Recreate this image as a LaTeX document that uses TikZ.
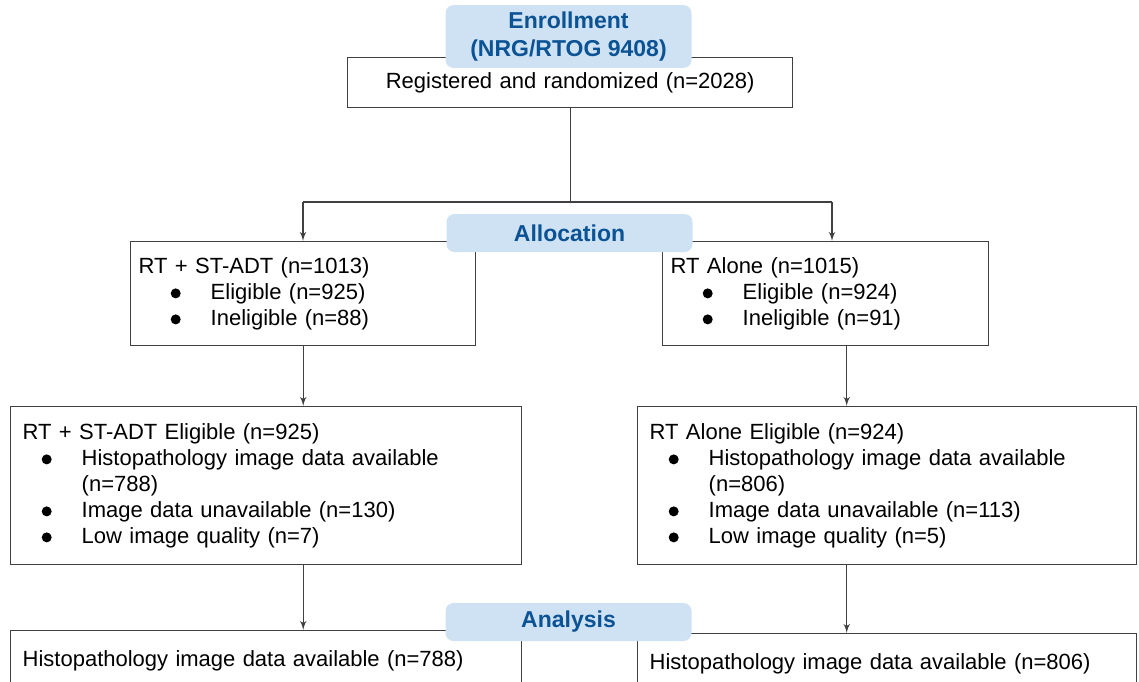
\documentclass[tikz,border=0pt]{standalone}
\usepackage{fontspec}
\setmainfont{Liberation Sans}
\usepackage{xcolor}
\usetikzlibrary{arrows, positioning}

\definecolor{tagfill}{HTML}{CFE2F3}
\definecolor{tagtext}{HTML}{0B5394}
\newcommand{\dotmark}{\tikz[baseline=0pt]\fill[black] (0pt,3pt) circle (2.5pt);}
\newcommand{\bitem}[2][9.5pt]{\hspace*{#1}\makebox[20pt][l]{\dotmark}#2}

\begin{document}
\begin{tikzpicture}[
    x=0.5pt, y=-0.5pt,
    box/.style={rectangle, draw=black!75, line width=0.7pt, fill=white, anchor=north west, align=left, inner xsep=6pt, inner ysep=0pt, font=\fontsize{11}{13}\selectfont},
    tag/.style={rectangle, rounded corners=4pt, fill=tagfill, text=tagtext, minimum width=123pt, align=center, font=\bfseries\fontsize{11.5}{14}\selectfont},
    link/.style={draw=black!75, line width=0.6pt},
    line/.style={link, -latex'}
]
\path[use as bounding box] (0,0) rectangle (1139,681);
\clip (0,0) rectangle (1139,681);

% boxes
\node [box, align=center, inner xsep=0pt, text width=222.5pt, minimum height=25pt] (reg) at (347,57) {Registered and randomized (n=2028)};

\node [box, inner xsep=4pt, text width=164.5pt, minimum height=52pt] (armA) at (130,241) {RT + ST-ADT (n=1013)\\ \bitem[16pt]{Eligible (n=925)}\\ \bitem[16pt]{Ineligible (n=88)}};
\node [box, inner xsep=4pt, text width=155pt, minimum height=52pt] (armB) at (662,241) {RT Alone (n=1015)\\ \bitem[16pt]{Eligible (n=924)}\\ \bitem[16pt]{Ineligible (n=91)}};

\node [box, text width=243.5pt, minimum height=79pt] (eligA) at (10,406) {RT + ST-ADT Eligible (n=925)\\ \bitem{Histopathology image data available}\\ \hspace*{29.5pt}(n=788)\\ \bitem{Image data unavailable (n=130)}\\ \bitem{Low image quality (n=7)}};
\node [box, text width=237.5pt, minimum height=79pt] (eligB) at (637,406) {RT Alone Eligible (n=924)\\ \bitem{Histopathology image data available}\\ \hspace*{29.5pt}(n=806)\\ \bitem{Image data unavailable (n=113)}\\ \bitem{Low image quality (n=5)}};

\node [box, text width=243.5pt, minimum height=30pt] (histA) at (10,630) {Histopathology image data available (n=788)};
\node [box, text width=237.5pt, minimum height=30pt] (histB) at (637,633) {Histopathology image data available (n=806)};

% connectors
\coordinate (splitL) at (303,202);
\coordinate (splitR) at (832,202);
\coordinate (colB) at ([xshift=10.5pt]armB.south);

\path [link] (reg.south) -- (reg.south |- splitL);
\path [link] (splitL) -- (splitR);
\path [line] (splitL) -- (splitL |- armA.north);
\path [line] (splitR) -- (splitR |- armB.north);

\path [line] (armA.south) -- (armA.south |- eligA.north);
\path [line] (colB) -- (colB |- eligB.north);

\path [line] (armA.south |- eligA.south) -- (armA.south |- histA.north);
\path [line] (colB |- eligB.south) -- (colB |- histB.north);

% phase tags
\node [tag, minimum height=30.5pt] (enroll) at (568.5,36.5) {Enrollment\\(NRG/RTOG 9408)};
\node [tag, minimum height=19pt] (alloc) at (569.5,233) {Allocation};
\node [tag, minimum height=19pt] (analysis) at (568.5,622) {Analysis};
\end{tikzpicture}
\end{document}
